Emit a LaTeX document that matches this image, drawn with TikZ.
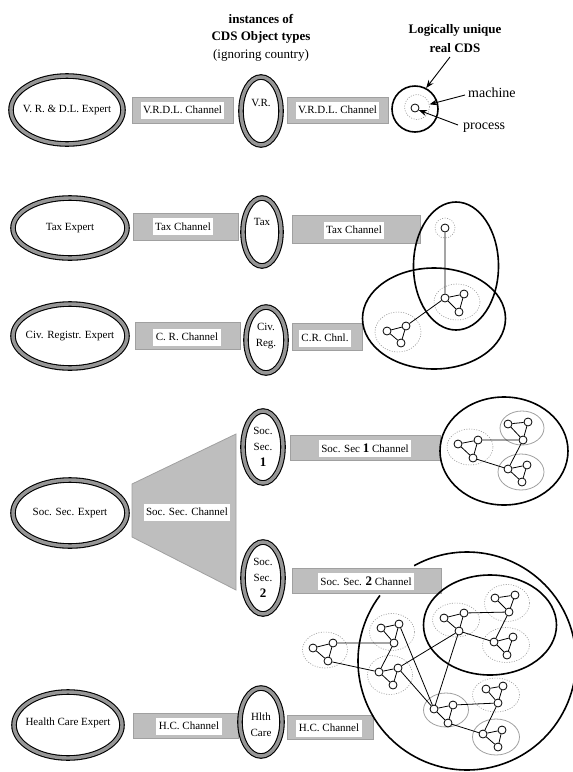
\documentclass[tikz,border=0pt]{standalone}
\usepackage{fontspec}
\setmainfont{Liberation Serif}
\usetikzlibrary{shapes.geometric,arrows.meta}
\definecolor{ringgray}{RGB}{150,150,150}
\definecolor{changray}{RGB}{190,190,190}
\definecolor{chanedge}{RGB}{160,160,160}
\definecolor{dotgray}{RGB}{150,150,150}
\definecolor{solgray}{RGB}{160,160,160}
\newcommand\mktri[4]{%
  \node[pn] (#1a) at (#2) {};
  \node[pn] (#1b) at (#3) {};
  \node[pn] (#1c) at (#4) {};
  \draw[edge] (#1a) -- (#1b) (#1a) -- (#1c) (#1b) -- (#1c);}
\begin{document}
\begin{tikzpicture}[x=1pt,y=-1pt,
  ring/.style={ellipse, draw=black, line width=1.1pt, double=ringgray, double distance=3.4pt, fill=white, inner sep=0pt},
  chan/.style={rectangle, draw=chanedge, fill=changray, line width=0.8pt, inner sep=0pt},
  lbl/.style={fill=white, inner sep=2.5pt, minimum height=17pt, font=\fontsize{11}{12.5}\selectfont},
  txt/.style={inner sep=0pt, align=center, font=\fontsize{11}{16}\selectfont},
  hd/.style={inner sep=0pt, align=center, font=\fontsize{13}{15}\selectfont\bfseries},
  pn/.style={circle, draw=black, fill=white, line width=0.8pt, minimum size=8pt, inner sep=0pt},
  edge/.style={draw=black, line width=0.8pt},
  dotc/.style={ellipse, draw=dotgray, line width=0.6pt, dash pattern=on 1pt off 1.5pt, inner sep=0pt},
  grayc/.style={ellipse, draw=solgray, line width=0.8pt, inner sep=0pt},
  cds/.style={ellipse, draw=black, line width=1.6pt, inner sep=0pt},
  cdsline/.style={draw=black, line width=1.6pt},
  arr/.style={draw=black, line width=0.9pt, -{Stealth[length=8pt,width=6pt]}}
]
\useasboundingbox (0,0) rectangle (573,772);

% ---------- headings ----------
\node[hd] (h1) at (261,19) {instances of};
\node[hd] (h2) at (261,37) {CDS Object types};
\node[inner sep=0pt, font=\fontsize{13}{15}\selectfont] (h3) at (261,55) {(ignoring country)};
\node[hd] (h4) at (455,30) {Logically unique};
\node[hd] (h5) at (455,48) {real CDS};

% ---------- row 1 ----------
\node[ring, minimum width=112, minimum height=68] (e1) at (67,110) {};
\node[txt] (e1t) at (e1) {V. R. \& D.L. Expert};
\node[chan, minimum width=101, minimum height=26] (c1) at (182.5,110) {};
\node[lbl] (c1t) at (c1) {V.R.D.L. Channel};
\node[ring, minimum width=40, minimum height=68] (o1) at (261,111) {};
\node[txt] (o1t) at (261,103) {V.R.};
\node[chan, minimum width=101, minimum height=26] (c2) at (337.5,110) {};
\node[lbl] (c2t) at (c2) {V.R.D.L. Channel};
\node[circle, draw=black, line width=1.6pt, minimum size=46, inner sep=0pt] (cds1) at (415,109) {};
\node[circle, dotc, minimum size=25] (mach) at (417,107) {};
\node[pn] (proc) at (415,108) {};
\node[inner sep=0pt, anchor=west, font=\fontsize{14}{16}\selectfont] (mt) at (468,93) {machine};
\node[inner sep=0pt, anchor=west, font=\fontsize{14}{16}\selectfont] (pt) at (463,128) {process};
\coordinate (la) at (450,57);
\coordinate (ma) at (465,95);
\coordinate (pa) at (458,125);
\draw[arr] (la) -- (cds1.62);
\draw[arr] (ma) -- (mach.12);
\draw[arr] (pa) -- (proc.-30);

% ---------- row 2 (Tax) ----------
\node[ring, minimum width=114, minimum height=60] (e2) at (70,228) {};
\node[txt] (e2t) at (e2) {Tax Expert};
\node[chan, minimum width=105, minimum height=27] (c3) at (185.5,226.5) {};
\node[lbl] (c3t) at (183,226.5) {Tax Channel};
\node[ring, minimum width=38, minimum height=68] (o2) at (262,232) {};
\node[txt] (o2t) at (262,222) {Tax};
\node[chan, minimum width=128, minimum height=28] (c4) at (356,229) {};
\node[lbl] (c4t) at (354,230) {Tax Channel};

% ---------- row 3 (Civ) ----------
\node[ring, minimum width=114, minimum height=64] (e3) at (70,336) {};
\node[txt] (e3t) at (e3) {Civ. Registr. Expert};
\node[chan, minimum width=105, minimum height=27] (c5) at (187.5,335.5) {};
\node[lbl] (c5t) at (187,337) {C. R. Channel};
\node[ring, minimum width=40, minimum height=66] (o3) at (266,340) {};
\node[txt] (o3t) at (266,336) {Civ.\\Reg.};
\node[chan, minimum width=70, minimum height=27] (c6) at (327,336.5) {};
\node[lbl] (c6t) at (325,338) {C.R. Chnl.};

% tax / civ CDS
\node[dotc, minimum size=20] (tq) at (445,228) {};
\node[dotc, minimum width=46, minimum height=36] (tr1) at (457,302) {};
\node[dotc, minimum width=46, minimum height=40] (tr2) at (398,332) {};
\node[cds, minimum width=85, minimum height=128] (vt) at (456,266) {};
\node[cds, minimum width=143, minimum height=101] (vc) at (434,318.5) {};
\node[pn] (tn) at (445,228) {};
\mktri{ta}{445,298}{464,294}{459,312}
\mktri{tb}{387,331}{406,326}{401,343}
\draw[edge] (tn) -- (taa) (taa) -- (tbb);

% ---------- row 4 (Soc. Sec.) ----------
\node[ring, minimum width=114, minimum height=66] (e4) at (70,513) {};
\node[txt] (e4t) at (e4) {Soc. Sec. Expert};
\coordinate (tz1) at (132,484);
\coordinate (tz2) at (236,434);
\coordinate (tz3) at (236,590);
\coordinate (tz4) at (132,537);
\draw[draw=chanedge, fill=changray, line width=0.8pt] (tz1) -- (tz2) -- (tz3) -- (tz4) -- cycle;
\node[lbl] (tzt) at (187,512) {Soc. Sec. Channel};
\node[ring, minimum width=40, minimum height=72] (o4) at (263,447) {};
\node[txt] (o4t) at (263,447) {Soc.\\Sec.\\{\fontsize{13}{16}\selectfont\bfseries 1}};
\node[chan, minimum width=150, minimum height=25] (c7) at (365,447.5) {};
\node[lbl] (c7t) at (365,448) {Soc. Sec {\fontsize{13}{12}\selectfont\bfseries 1} Channel};
\node[ring, minimum width=40, minimum height=72] (o5) at (263,578) {};
\node[txt] (o5t) at (263,578) {Soc.\\Sec.\\{\fontsize{13}{16}\selectfont\bfseries 2}};
\node[chan, minimum width=149, minimum height=25] (c8) at (366.5,580.5) {};
\node[lbl] (c8t) at (366,581) {Soc. Sec. {\fontsize{13}{12}\selectfont\bfseries 2} Channel};

% soc sec 1 CDS
\node[dotc, minimum width=46, minimum height=36] (sl) at (470,447) {};
\node[grayc, minimum width=44, minimum height=34] (st) at (522,428) {};
\node[grayc, minimum width=46, minimum height=36] (sb) at (521,472) {};
\node[cds, minimum width=128, minimum height=108] (s1) at (504,451) {};
\mktri{sa}{458,444}{478,440}{473,458}
\mktri{sc}{508,424}{528,422}{523,440}
\mktri{sd}{508,469}{527,465}{522,482}
\draw[edge] (sab) -- (scc) (sac) -- (sda) (scc) -- (sda);

% ---------- row 5 (Health care) ----------
\node[ring, minimum width=108, minimum height=66] (e5) at (68,725) {};
\node[txt] (e5t) at (68,723) {Health Care Expert};
\node[chan, minimum width=105, minimum height=25] (c9) at (185.5,725.5) {};
\node[lbl] (c9t) at (189,726) {H.C. Channel};
\node[ring, minimum width=42, minimum height=68] (o6) at (261,722) {};
\node[txt] (o6t) at (261,725) {Hlth\\Care};
\node[chan, minimum width=86, minimum height=24] (c10) at (330,727) {};
\node[lbl] (c10t) at (329,728) {H.C. Channel};

% ---------- big CDS (soc sec 2 / health care) ----------
\node[dotc, minimum width=45, minimum height=36] (ga) at (325,650) {};
\node[dotc, minimum width=45, minimum height=37] (gb) at (392,632) {};
\node[dotc, minimum width=45, minimum height=39] (gc) at (390,675) {};
\node[dotc, minimum width=47, minimum height=34] (gd) at (456,620) {};
\node[dotc, minimum width=45, minimum height=37] (ge) at (507,603) {};
\node[dotc, minimum width=47, minimum height=35] (gf) at (506,645) {};
\node[grayc, minimum width=45, minimum height=34] (gg) at (446,710) {};
\node[dotc, minimum width=47, minimum height=34] (gh) at (496,695) {};
\node[grayc, minimum width=47, minimum height=36] (gi) at (496,737) {};
\coordinate (hc) at (467,661);
\draw[cdsline] (hc) ++(-143:109) arc[start angle=-143, end angle=-479, radius=109];
\node[cds, minimum width=133, minimum height=100] (s2) at (490,625) {};
\mktri{A}{313,648}{333,643}{328,661}
\mktri{B}{381,628}{399,624}{394,643}
\mktri{C}{379,672}{398,668}{393,685}
\mktri{D}{444,618}{464,613}{459,631}
\mktri{E}{495,598}{515,595}{509,612}
\mktri{F}{494,642}{513,637}{507,655}
\mktri{G}{434,709}{453,705}{448,723}
\mktri{H}{486,689}{503,686}{498,703}
\mktri{I}{483,734}{502,730}{498,747}
\draw[edge] (Ab) -- (Bc) (Ac) -- (Ca) (Bc) -- (Ca) (Bb) -- (Ga) (Cb) -- (Ga)
  (Cb) -- (Dc) (Dc) -- (Ga) (Db) -- (Ec) (Dc) -- (Fa) (Ec) -- (Fa)
  (Gb) -- (Hc) (Gc) -- (Ia) (Hc) -- (Ia);
\end{tikzpicture}
\end{document}
